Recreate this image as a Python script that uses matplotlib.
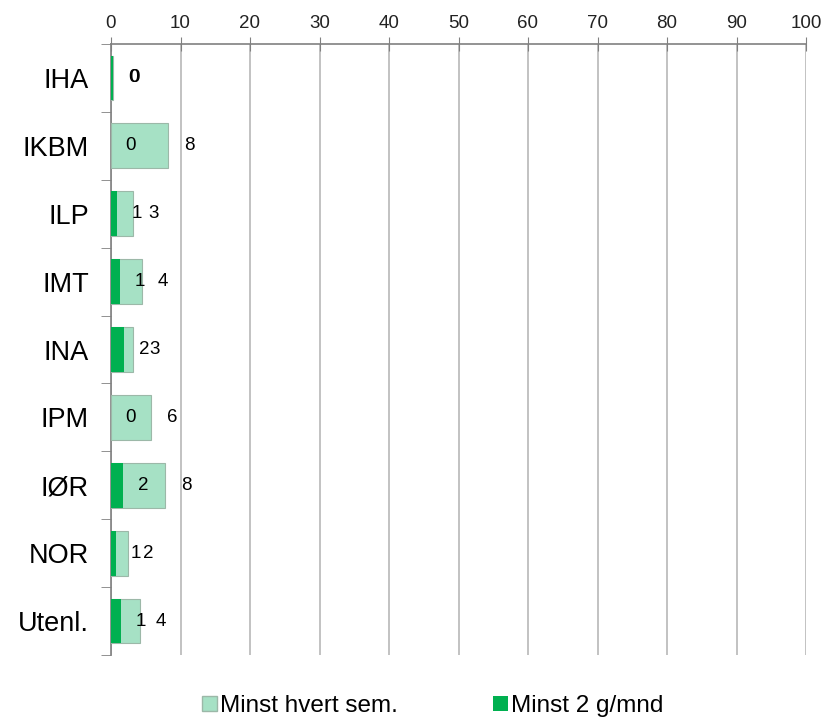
import matplotlib.pyplot as plt
from matplotlib.patches import Patch

# data (percent)
categories = ['IHA', 'IKBM', 'ILP', 'IMT', 'INA', 'IPM', 'IØR', 'NOR', 'Utenl.']
hvert_sem = [0.3, 8.2, 3.1, 4.4, 3.2, 5.8, 7.8, 2.4, 4.2]
to_g_mnd = [0.3, 0.0, 0.9, 1.3, 1.9, 0.0, 1.7, 0.7, 1.4]
xticks = list(range(0, 101, 10))

light = '#A6E1C5'
dark = '#00B050'

plt.rcParams['font.family'] = ['Liberation Sans', 'DejaVu Sans']

W, H = 834, 719
fig = plt.figure(figsize=(W / 100, H / 100), dpi=100)
ax = fig.add_axes([111 / W, 1 - 655 / H, (806 - 111) / W, (655 - 44) / H])

y = list(range(len(categories)))
ax.barh(y, hvert_sem, height=0.66, color=light, edgecolor='#9CB8A8', linewidth=0.8, zorder=3)
ax.barh(y, to_g_mnd, height=0.66, color=dark, edgecolor='none', zorder=4)

# value labels, placed just beyond each bar end
for i in y:
    ax.annotate(f'{to_g_mnd[i]:.0f}', (to_g_mnd[i], i), xytext=(20, 0),
                textcoords='offset pixels', ha='center', va='center', fontsize=13.5, zorder=5)
    ax.annotate(f'{hvert_sem[i]:.0f}', (hvert_sem[i], i), xytext=(21, 0),
                textcoords='offset pixels', ha='center', va='center', fontsize=13.5, zorder=5)

ax.set_xlim(0, 100)
ax.set_ylim(len(categories) - 0.5, -0.5)
ax.xaxis.tick_top()
ax.set_xticks(xticks)
ax.tick_params(axis='x', direction='inout', length=10, color='#808080',
               labelsize=13.5, pad=4, labelcolor='#222222')
ax.set_yticks(y)
ax.set_yticklabels(categories)
ax.set_yticks([k - 0.5 for k in range(len(categories) + 1)], minor=True)
ax.tick_params(axis='y', which='major', length=0, labelsize=19.5, pad=16)
ax.tick_params(axis='y', which='minor', direction='out', length=7, color='#808080')

ax.grid(axis='x', color='#B8B8B8', linewidth=1.2, zorder=0)
for s in ['right', 'bottom']:
    ax.spines[s].set_visible(False)
for s in ['left', 'top']:
    ax.spines[s].set_color('#808080')
    ax.spines[s].set_linewidth(1.2)

handles = [Patch(facecolor=light, edgecolor='#9CB8A8', label='Minst hvert sem.'),
           Patch(facecolor=dark, edgecolor='none', label='Minst 2 g/mnd')]
fig.legend(handles=handles, loc='center left', bbox_to_anchor=(190 / W, 1 - 706 / H),
           ncol=2, frameon=False, fontsize=17.5, handlelength=0.6, handleheight=0.6,
           handletextpad=0.15, columnspacing=3.9, borderpad=0)

fig.savefig('out.png', dpi=100)
